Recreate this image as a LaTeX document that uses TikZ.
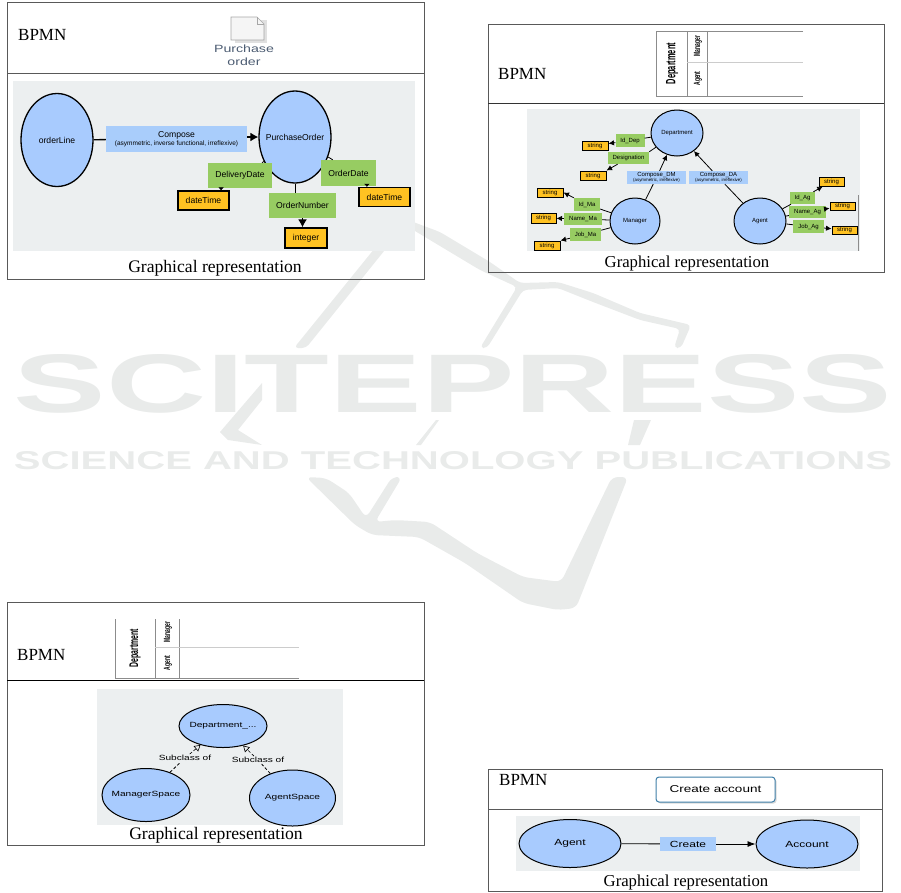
\documentclass[tikz,border=0pt]{standalone}
\usepackage{fontspec}
\setmainfont{Liberation Serif}
\setsansfont{Liberation Sans}
\newfontfamily\widesans[FakeStretch=1.35]{Liberation Sans}
\newfontfamily\narrowsans[FakeStretch=0.55]{Liberation Sans}
\usepackage{tikz}
\usetikzlibrary{shapes.geometric,arrows.meta,shadows}

\definecolor{panelgray}{HTML}{ECEFF0}
\definecolor{classblue}{HTML}{A8CBFE}
\definecolor{relblue}{HTML}{A9CDFB}
\definecolor{attrgreen}{HTML}{97CC62}
\definecolor{typeorange}{HTML}{FFC222}
\definecolor{markgray}{HTML}{E9EBEA}
\definecolor{docblue}{HTML}{4C5C72}
\definecolor{taskblue}{HTML}{3F7FA8}

\newcommand{\inellipse}[1]{\makebox[0pt]{#1}}

\tikzset{
  frameline/.style={draw=black!65, line width=1pt},
  poolline/.style={draw=black!45, line width=1pt},
  bpmn/.style={font=\fontsize{17}{20}\selectfont},
  caption/.style={font=\fontsize{17.6}{20}\selectfont},
  captionsmall/.style={font=\fontsize{16.7}{20}\selectfont},
  class/.style={ellipse, draw, fill=classblue, line width=1pt, inner sep=0pt},
  attr/.style={rectangle, fill=attrgreen, inner sep=0pt},
  rel/.style={rectangle, fill=relblue, inner sep=0pt, align=center},
  type/.style={rectangle, draw, fill=typeorange, line width=1pt, inner sep=0pt},
  big/.style={font=\sffamily\fontsize{8.6}{10}\selectfont},
  tiny/.style={font=\sffamily\fontsize{6}{7}\selectfont},
  wide/.style={font=\widesans\fontsize{7.5}{9}\selectfont},
  wider/.style={font=\widesans\fontsize{8.9}{10}\selectfont},
  edge/.style={line width=0.8pt},
  edgeto/.style={line width=0.8pt, -{Latex[length=5.5pt,width=5.5pt]}},
  edgebig/.style={line width=1.3pt, -{Latex[length=8pt,width=9pt]}},
  edgestub/.style={line width=0.8pt, -{Latex[length=3pt,width=6pt]}},
  subof/.style={line width=0.8pt, densely dashed},
  subofto/.style={line width=0.6pt, densely dashed, -{Triangle[open,length=6pt,width=7pt]}}
}

\begin{document}
\begin{tikzpicture}[x=1pt, y=-1pt]
  \useasboundingbox (0,0) rectangle (901,892);

  % Draw watermark
  \fill[markgray, rounded corners=4pt] (400,217) -- (440,232) -- (490,262) -- (520,283) -- (558,282) -- (593,293) -- (640,313) -- (691,325) -- (681,348) -- (674,348) -- (680,329) -- (640,320) -- (593,302) -- (558,288) -- (523,290) -- (487,348) -- (480,348) -- (517,287) -- (480,270) -- (430,240) -- (405,225) -- (306,348) -- (294,348) -- cycle;
  \fill[markgray] (262,383) -- (220,432) -- (228,440) -- (262,445) -- (238,430) -- (262,400) -- cycle;
  \fill[markgray] (436,420) -- (416,445) -- (421,445) -- (439,420) -- cycle;
  \fill[markgray] (634,420) -- (628,445) -- (640,445) -- (651,420) -- cycle;
  \fill[markgray, rounded corners=6pt] (306,477) -- (326,478) -- (349,493) -- (366,518) -- (392,477) -- (402,477) -- (375,522) -- (395,520) -- (430,522) -- (477,553) -- (523,577) -- (561,582) -- (612,477) -- (628,477) -- (576,608) -- (558,610) -- (523,603) -- (465,563) -- (419,537) -- (372,535) -- (355,525) -- cycle;
  \node[text=markgray, inner sep=0pt] (markname) at (453,384) {\resizebox{878pt}{58pt}{\sffamily\bfseries SCITEPRESS}};
  \node[text=markgray, inner sep=0pt] (markline) at (453,461) {\resizebox{878pt}{18pt}{\sffamily\bfseries SCIENCE AND TECHNOLOGY PUBLICATIONS}};

  % Draw frames
  \draw[frameline] (7,2) rectangle (424,279);
  \draw[frameline] (7,73) -- (424,73);
  \draw[frameline] (488,24) rectangle (884,272);
  \draw[black!80, line width=1pt] (488,103) -- (884,103);
  \draw[frameline] (7,602) rectangle (424,845);
  \draw[black, line width=1pt] (7,680) -- (424,680);
  \draw[frameline] (488,769) rectangle (882,891);
  \draw[frameline] (488,809) -- (882,809);

  % Draw gray panels
  \fill[panelgray] (13,81) rectangle (415,251);
  \fill[panelgray] (527,109) rectangle (860,251);
  \fill[panelgray] (97,689) rectangle (343,825);
  \fill[panelgray] (516,816) rectangle (860,871);

  % Draw titles
  \node[bpmn, anchor=west, inner sep=0pt] (bpmnOrder) at (18,35) {BPMN};
  \node[bpmn, anchor=west, inner sep=0pt] (bpmnDepartment) at (498,74) {BPMN};
  \node[bpmn, anchor=west, inner sep=0pt] (bpmnSpace) at (17,655) {BPMN};
  \node[bpmn, anchor=west, inner sep=0pt] (bpmnAccount) at (499,780) {BPMN};
  \node[caption] (captionOrder) at (215,268) {Graphical representation};
  \node[captionsmall] (captionDepartment) at (687,263) {Graphical representation};
  \node[caption] (captionSpace) at (216,835) {Graphical representation};
  \node[captionsmall] (captionAccount) at (686,882) {Graphical representation};

  % Draw data object
  \fill[black!12] (235,20) rectangle (267,43);
  \draw[black!35, fill=black!4, line width=0.7pt] (231,17) -- (257,17) -- (264,24) -- (264,40) -- (231,40) -- cycle;
  \draw[black!35, line width=0.7pt] (257,17) -- (257,24) -- (264,24);
  \node[font=\widesans\fontsize{10.5}{12.5}\selectfont, text=docblue, align=center, inner sep=0pt] (purchaseDoc) at (244,55) {Purchase\\order};

  % Draw order vertices
  \node[class, big, line width=1.3pt, minimum width=72pt, minimum height=93pt] (orderLine) at (57,140) {orderLine};
  \node[class, big, line width=1.3pt, minimum width=72pt, minimum height=92pt] (PurchaseOrder) at (295,137) {\inellipse{PurchaseOrder}};
  \node[rel, big, minimum width=141pt, minimum height=26pt] (Compose) at (176.5,139) {Compose\\[-1.5pt]{\fontsize{6.5}{7}\selectfont (asymmetric, inverse functional, irreflexive)}};
  \node[attr, big, minimum width=64pt, minimum height=25pt] (DeliveryDate) at (240,175.5) {DeliveryDate};
  \node[attr, big, minimum width=55pt, minimum height=26pt] (OrderDate) at (348.5,173) {OrderDate};
  \node[attr, big, minimum width=67pt, minimum height=25pt] (OrderNumber) at (302.5,205.5) {OrderNumber};
  \node[type, big, line width=1.3pt, minimum width=51pt, minimum height=19pt] (dateTimeDelivery) at (203.5,200.5) {dateTime};
  \node[type, big, line width=1.3pt, minimum width=51pt, minimum height=19pt] (dateTimeOrder) at (384.5,197) {dateTime};
  \node[type, big, line width=1.3pt, minimum width=42pt, minimum height=20pt] (integerOrder) at (306,238) {integer};

  % Draw order edges
  \draw[edge, line width=1.3pt] (orderLine) -- (Compose);
  \draw[edgebig] (Compose.east |- PurchaseOrder) -- (PurchaseOrder.west);
  \draw[edge] (PurchaseOrder) -- (DeliveryDate.30);
  \draw[edge] (PurchaseOrder) -- (OrderDate.140);
  \draw[edge] (PurchaseOrder.south) -- (OrderNumber.north -| PurchaseOrder.south);
  \draw[edgestub] (DeliveryDate.south -| dateTimeDelivery.30) -- (dateTimeDelivery.30);
  \draw[edgestub] (OrderDate.south -| dateTimeOrder.150) -- (dateTimeOrder.150);
  \draw[edgebig] (OrderNumber.south) -- (integerOrder.north -| OrderNumber.south);

  % Draw pool of first department
  \draw[poolline] (803,31) -- (656,31) -- (656,96) -- (803,96);
  \draw[poolline] (687,31) -- (687,96);
  \draw[poolline] (707,31) -- (707,96);
  \draw[black!20, line width=1pt] (687,62) -- (803,62);
  \node[rotate=90, font=\narrowsans\bfseries\fontsize{13.5}{15}\selectfont, inner sep=0pt] (poolDepartment) at (672,63.5) {Department};
  \node[rotate=90, font=\narrowsans\bfseries\fontsize{9}{10}\selectfont, inner sep=0pt] (laneManager) at (698,46) {Manager};
  \node[rotate=90, font=\narrowsans\bfseries\fontsize{9}{10}\selectfont, inner sep=0pt] (laneAgent) at (698,78.5) {Agent};

  % Draw department vertices
  \node[class, tiny, minimum width=52pt, minimum height=46pt] (Department) at (677,133) {Department};
  \node[class, tiny, minimum width=50pt, minimum height=46pt] (Manager) at (635,221) {Manager};
  \node[class, tiny, minimum width=52pt, minimum height=46pt] (Agent) at (760,221) {Agent};
  \node[attr, tiny, minimum width=29pt, minimum height=13pt] (IdDep) at (630,140.5) {Id\_Dep};
  \node[attr, tiny, minimum width=41pt, minimum height=12pt] (Designation) at (628.5,158) {Designation};
  \node[attr, tiny, minimum width=26pt, minimum height=13pt] (IdMa) at (587,204.5) {Id\_Ma};
  \node[attr, tiny, minimum width=38pt, minimum height=12pt] (NameMa) at (583,219) {Name\_Ma};
  \node[attr, tiny, minimum width=31pt, minimum height=13pt] (JobMa) at (585.5,234.5) {Job\_Ma};
  \node[attr, tiny, minimum width=25pt, minimum height=12pt] (IdAg) at (802.5,198) {Id\_Ag};
  \node[attr, tiny, minimum width=37pt, minimum height=12pt] (NameAg) at (807.5,212) {Name\_Ag};
  \node[attr, tiny, minimum width=31pt, minimum height=13pt] (JobAg) at (808.5,226.5) {Job\_Ag};
  \node[type, tiny, minimum width=26pt, minimum height=9pt] (stringIdDep) at (595,145.5) {string};
  \node[type, tiny, minimum width=26pt, minimum height=9pt] (stringDesignation) at (593,175.5) {string};
  \node[type, tiny, minimum width=26pt, minimum height=9pt] (stringIdMa) at (550,192.5) {string};
  \node[type, tiny, minimum width=25pt, minimum height=10pt] (stringNameMa) at (543.5,218) {string};
  \node[type, tiny, minimum width=26pt, minimum height=9pt] (stringJobMa) at (547,245.5) {string};
  \node[type, tiny, minimum width=25pt, minimum height=9pt] (stringIdAg) at (831.5,181.5) {string};
  \node[type, tiny, minimum width=25pt, minimum height=8pt] (stringNameAg) at (842.5,206) {string};
  \node[type, tiny, minimum width=25pt, minimum height=8pt] (stringJobAg) at (844.5,230) {string};
  \node[rel, tiny, minimum width=59pt, minimum height=13pt] (ComposeDM) at (656.5,177.5) {Compose\_DM\\[-2.5pt]{\fontsize{4.4}{5}\selectfont (asymmetric, irreflexive)}};
  \node[rel, tiny, minimum width=59pt, minimum height=13pt] (ComposeDA) at (718.5,177.5) {Compose\_DA\\[-2.5pt]{\fontsize{4.4}{5}\selectfont (asymmetric, irreflexive)}};

  % Draw department edges
  \draw[edge] (Manager) -- (ComposeDM);
  \draw[edgeto] (ComposeDM) -- (Department);
  \draw[edge] (Agent) -- (ComposeDA);
  \draw[edgeto] (ComposeDA) -- (Department);
  \draw[edge] (Department) -- (IdDep);
  \draw[edge] (Department) -- (Designation.north east);
  \draw[edgeto] (IdDep) -- (stringIdDep);
  \draw[edgeto] (Designation) -- (stringDesignation.north east);
  \draw[edge] (Manager) -- (IdMa);
  \draw[edge] (Manager) -- (NameMa);
  \draw[edge] (Manager) -- (JobMa);
  \draw[edgeto] (IdMa) -- (stringIdMa.east);
  \draw[edgeto] (NameMa) -- (stringNameMa);
  \draw[edgeto] (JobMa) -- (stringJobMa.north east);
  \draw[edge] (Agent) -- (IdAg);
  \draw[edge] (Agent) -- (NameAg);
  \draw[edge] (Agent) -- (JobAg);
  \draw[edgeto] (IdAg) -- (stringIdAg);
  \draw[edgeto] (NameAg) -- (stringNameAg);
  \draw[edgeto] (JobAg) -- (stringJobAg);
  \draw[black!45, line width=1pt] (858,195) -- (858,251);

  % Draw pool of second department
  \draw[poolline] (299,678) -- (115,678) -- (115,619);
  \draw[poolline] (155,619) -- (155,678);
  \draw[poolline] (179,619) -- (179,678);
  \draw[black!20, line width=1pt] (155,647) -- (299,647);
  \node[rotate=90, font=\narrowsans\bfseries\fontsize{12.5}{14}\selectfont, inner sep=0pt] (poolSpace) at (135,648) {Department};
  \node[rotate=90, font=\narrowsans\bfseries\fontsize{9}{10}\selectfont, inner sep=0pt] (laneManagerSpace) at (168,632) {Manager};
  \node[rotate=90, font=\narrowsans\bfseries\fontsize{9}{10}\selectfont, inner sep=0pt] (laneAgentSpace) at (168,663) {Agent};

  % Draw subclass vertices
  \node[class, wide, minimum width=88pt, minimum height=43pt] (DepartmentSpace) at (223,726) {\inellipse{Department\_...}};
  \node[class, wide, minimum width=88pt, minimum height=53pt] (ManagerSpace) at (146,795) {\inellipse{ManagerSpace}};
  \node[class, wide, minimum width=86pt, minimum height=56pt] (AgentSpace) at (292.5,798) {\inellipse{AgentSpace}};
  \node[wide, inner sep=1pt] (SubclassManager) at (185,758) {Subclass of};
  \node[wide, inner sep=1pt] (SubclassAgent) at (258,760) {Subclass of};

  % Draw subclass edges
  \draw[subof] (ManagerSpace) -- (SubclassManager);
  \draw[subofto] (SubclassManager) -- (DepartmentSpace);
  \draw[subof] (AgentSpace) -- (SubclassAgent);
  \draw[subofto] (SubclassAgent) -- (DepartmentSpace);

  % Draw task and account vertices
  \node[rectangle, rounded corners=3pt, draw=taskblue, fill=white, line width=1pt, drop shadow={shadow xshift=1.5pt, shadow yshift=-1.5pt, opacity=0.3}, font=\widesans\fontsize{10}{12}\selectfont, minimum width=119pt, minimum height=25pt, inner sep=0pt] (createTask) at (715.5,789.5) {Create account};
  \node[class, wider, minimum width=102pt, minimum height=48pt] (AgentAccount) at (570,843.5) {Agent};
  \node[class, wider, minimum width=102pt, minimum height=48pt] (Account) at (807,844) {Account};
  \node[rel, wider, minimum width=56pt, minimum height=14pt] (Create) at (688,844) {Create};

  % Draw account edges
  \draw[edge] (AgentAccount) -- (Create);
  \draw[edge, -{Latex[length=8pt,width=6pt]}] (Create) -- (Account);
\end{tikzpicture}
\end{document}
